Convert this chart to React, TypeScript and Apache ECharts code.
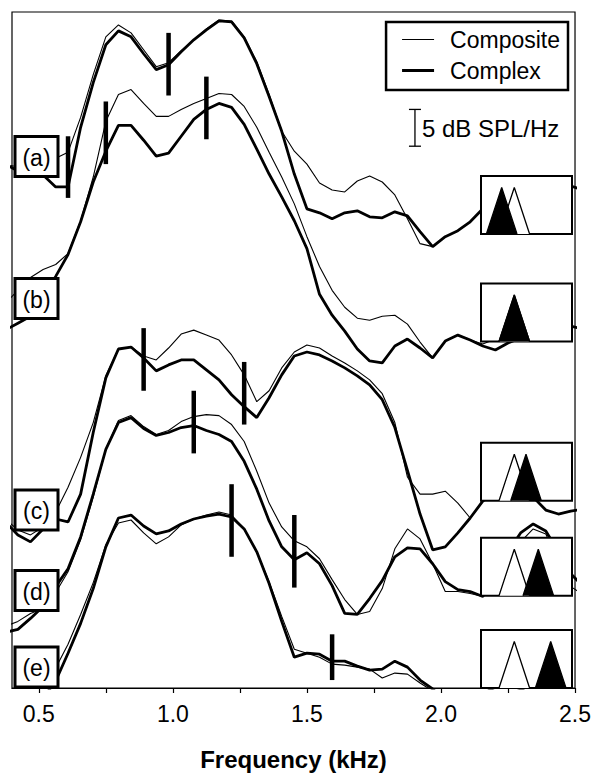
import React, { useEffect, useRef } from "react";
import * as echarts from "echarts";

// Frequency bins (kHz), 46.875 Hz spacing
const freqKHz = [0.375, 0.422, 0.469, 0.516, 0.563, 0.609, 0.656, 0.703, 0.75, 0.797, 0.844, 0.891, 0.938, 0.984, 1.031, 1.078, 1.125, 1.172, 1.219, 1.266, 1.313, 1.359, 1.406, 1.453, 1.5, 1.547, 1.594, 1.641, 1.688, 1.734, 1.781, 1.828, 1.875, 1.922, 1.969, 2.016, 2.063, 2.109, 2.156, 2.203, 2.25, 2.297, 2.344, 2.391, 2.438, 2.484, 2.531];

// Stacked spectra levels (offset plot units; 36.7 units = 5 dB)
const aComplex = [527, 520, 518, 516, 504, 504, 564, 609, 647, 661, 655, 638, 622, 627, 640, 652, 662, 671, 670, 654, 628, 595, 560, 517, 482, 478, 472, 478, 480, 474, 473, 479, 475, 459, 444, 454, 460, 469, 482, 487, 492, 496, 500, 503, 505, 505, 501];
const aComposite = [527, 524, 526, 529, 533, 539, 574, 617, 655, 667, 659, 642, 625, 629, 641, 652, 663, 672, 671, 655, 630, 597, 560, 540, 527, 508, 501, 499, 510, 515, 509, 496, 472, 447, 444, 454, 460, 469, 482, 487, 492, 496, 500, 503, 505, 505, 501];
const bComplex = [360, 367, 374, 394, 414, 436, 469, 509, 540, 566, 566, 551, 535, 538, 555, 572, 582, 588, 584, 567, 542, 517, 494, 470, 442, 396, 375, 359, 341, 329, 327, 344, 351, 342, 332, 349, 355, 350, 344, 340, 347, 352, 355, 358, 362, 364, 361];
const bComposite = [387, 400, 413, 421, 426, 437, 470, 514, 570, 597, 602, 588, 575, 575, 582, 588, 593, 598, 597, 585, 564, 539, 514, 487, 454, 424, 400, 383, 372, 370, 374, 375, 366, 348, 332, 349, 355, 350, 346, 351, 355, 357, 358, 360, 362, 364, 361];
const cComplex = [167, 154, 147, 160, 170, 167, 195, 257, 312, 341, 343, 332, 319, 325, 330, 330, 320, 310, 295, 283, 272, 292, 315, 334, 338, 335, 329, 322, 314, 305, 290, 262, 219, 175, 139, 142, 156, 171, 188, 197, 204, 202, 192, 179, 175, 178, 180];
const cComposite = [170, 159, 154, 162, 177, 202, 232, 267, 314, 341, 343, 334, 330, 342, 356, 360, 355, 350, 335, 315, 288, 299, 322, 338, 345, 342, 334, 327, 319, 310, 296, 267, 212, 195, 195, 198, 186, 171, 188, 197, 204, 202, 192, 179, 175, 178, 180];
const dComplex = [56, 59, 70, 82, 102, 120, 152, 195, 240, 267, 272, 261, 254, 257, 262, 264, 259, 255, 248, 228, 200, 168, 142, 129, 136, 125, 103, 75, 74, 90, 108, 132, 141, 140, 125, 107, 99, 97, 92, 112, 137, 156, 165, 158, 137, 115, 102];
const dComposite = [62, 67, 75, 80, 96, 117, 149, 192, 240, 269, 274, 263, 255, 259, 268, 273, 275, 274, 265, 248, 218, 186, 162, 148, 142, 130, 109, 89, 74, 77, 100, 140, 160, 150, 125, 97, 97, 95, 92, 107, 127, 147, 160, 155, 127, 102, 94];
const eComplex = [-48, -38, -23, -10, 7, 35, 65, 100, 142, 171, 174, 163, 155, 158, 165, 170, 173, 175, 172, 160, 137, 105, 67, 31, 35, 34, 27, 27, 22, 18, 19, 27, 21, 8, -1, -13, -18, -14, -6, 1, 4, -1, -8, -13, -16, -18, -18];
const eComposite = [-38, -26, -13, 0, 20, 44, 74, 106, 144, 166, 169, 156, 145, 152, 164, 170, 174, 177, 174, 160, 137, 107, 72, 39, 35, 31, 24, 23, 21, 19, 10, 15, 14, 5, -3, -13, -18, -14, -6, 1, 4, -1, -8, -13, -16, -18, -18];

const complexSeries = [aComplex, bComplex, cComplex, dComplex, eComplex];
const compositeSeries = [aComposite, bComposite, cComposite, dComposite, eComposite];

// Formant markers (vertical bars)
const markerFreq = [0.609, 0.984, 0.75, 1.125, 0.891, 1.266, 1.078, 1.453, 1.219, 1.594];
const markerTop = [555, 659, 590, 615, 362, 328, 299, 174, 205, 54];
const markerBottom = [493, 596, 527, 552, 299, 265, 236, 101, 132, 8];

// Scale bar: 5 dB
const scaleBarFreq = 1.903;
const scaleBarTop = 582;
const scaleBarBottom = 545;
const scaleBarLabel = "5 dB SPL/Hz";

// Axis ticks
const xTickValues = [0.5, 0.75, 1.0, 1.25, 1.5, 1.75, 2.0, 2.25, 2.5];
const xLabelValues = [0.5, 1.0, 1.5, 2.0, 2.5];

// Panel labels
const panelLabels = ["(a)", "(b)", "(c)", "(d)", "(e)"];

// Insets: reference (white) and shifted (black) triangle centres
const insetRefCenter = 33.3;
const insetShiftCenters = [20.7, 33.3, 45.0, 57.3, 69.7];

const FONT = "Liberation Sans, Arial, Helvetica, sans-serif";

// legend icons: horizontal bars inside a 32x14 box (tiny corner specks fix the bounding box)
const ICON_THIN = "path://M0,6.45L32,6.45L32,7.55L0,7.55Z M0,0L0.01,0L0.01,0.01Z M31.99,13.99L32,13.99L32,14Z";
const ICON_THICK = "path://M0,5.5L32,5.5L32,8.5L0,8.5Z M0,0L0.01,0L0.01,0.01Z M31.99,13.99L32,13.99L32,14Z";

export default function App() {
  const ref = useRef<HTMLDivElement>(null);

  useEffect(() => {
    if (!ref.current) return;
    const chart = echarts.init(ref.current, undefined, { renderer: "svg" });

    const labelTops = [136.5, 278.5, 490, 570.5, 647];
    const insetTops = [176, 283.5, 442.7, 537.7, 630];
    const triHalf = 15.3;
    const triH = 46.5;

    const grids: any[] = [
      { left: 12, right: 16, top: 12, bottom: 84, show: true, borderColor: "#000", borderWidth: 1.2 },
    ];
    const xAxes: any[] = [
      {
        type: "value",
        gridIndex: 0,
        min: 0.4,
        max: 2.5,
        splitLine: { show: false },
        axisLine: { show: true, onZero: false, lineStyle: { color: "#000", width: 1.2 } },
        axisTick: { show: true, inside: false, length: 5, customValues: xTickValues, lineStyle: { color: "#000", width: 1.2 } },
        axisLabel: {
          customValues: xLabelValues,
          formatter: (v: number) => v.toFixed(1),
          fontSize: 23,
          fontFamily: FONT,
          color: "#000",
          margin: 14,
        },
        name: "Frequency (kHz)",
        nameLocation: "middle",
        nameGap: 59,
        nameTextStyle: { fontSize: 24, fontWeight: "bold", fontFamily: FONT, color: "#000" },
      },
    ];
    const yAxes: any[] = [
      { type: "value", gridIndex: 0, min: 0, max: 680, show: false, splitLine: { show: false } },
    ];

    const series: any[] = [];
    complexSeries.forEach((arr) => {
      series.push({
        name: "Complex",
        type: "line",
        xAxisIndex: 0,
        yAxisIndex: 0,
        data: freqKHz.map((f, k) => [f, arr[k]]),
        symbol: "none",
        showSymbol: false,
        lineStyle: { color: "#000", width: 2.8 },
        itemStyle: { color: "#000" },
        z: 2,
        silent: true,
        clip: true,
      });
    });
    compositeSeries.forEach((arr) => {
      series.push({
        name: "Composite",
        type: "line",
        xAxisIndex: 0,
        yAxisIndex: 0,
        data: freqKHz.map((f, k) => [f, arr[k]]),
        symbol: "none",
        showSymbol: false,
        lineStyle: { color: "#000", width: 1.1 },
        itemStyle: { color: "#000" },
        z: 2,
        silent: true,
        clip: true,
      });
    });

    series.push({
      type: "custom",
      name: "markers",
      xAxisIndex: 0,
      yAxisIndex: 0,
      z: 3,
      silent: true,
      data: markerFreq.map((f, i) => [f, markerTop[i], markerBottom[i]]),
      renderItem: (_p: any, api: any) => {
        const p1 = api.coord([api.value(0), api.value(1)]);
        const p2 = api.coord([api.value(0), api.value(2)]);
        return {
          type: "line",
          shape: { x1: p1[0], y1: p1[1], x2: p2[0], y2: p2[1] },
          style: { stroke: "#000", lineWidth: 4.5 },
        };
      },
    });

    series.push({
      type: "custom",
      name: "scalebar",
      xAxisIndex: 0,
      yAxisIndex: 0,
      z: 3,
      silent: true,
      clip: false,
      data: [[scaleBarFreq, scaleBarTop, scaleBarBottom]],
      renderItem: (_p: any, api: any) => {
        const t = api.coord([api.value(0), api.value(1)]);
        const b = api.coord([api.value(0), api.value(2)]);
        const cap = 6;
        return {
          type: "group",
          children: [
            { type: "line", shape: { x1: t[0], y1: t[1], x2: b[0], y2: b[1] }, style: { stroke: "#000", lineWidth: 1.3 } },
            { type: "line", shape: { x1: t[0] - cap, y1: t[1], x2: t[0] + cap, y2: t[1] }, style: { stroke: "#000", lineWidth: 1.3 } },
            { type: "line", shape: { x1: b[0] - cap, y1: b[1], x2: b[0] + cap, y2: b[1] }, style: { stroke: "#000", lineWidth: 1.3 } },
            {
              type: "text",
              x: t[0] + 7,
              y: (t[1] + b[1]) / 2 + 1,
              style: { text: scaleBarLabel, fontSize: 24, fontFamily: FONT, fill: "#000", align: "left", verticalAlign: "middle" },
            },
          ],
        };
      },
    });

    insetShiftCenters.forEach((c, i) => {
      const gi = i + 1;
      grids.push({
        left: 481,
        width: 91,
        top: insetTops[i],
        height: 58,
        show: true,
        borderColor: "#000",
        borderWidth: 2,
        backgroundColor: "#fff",
        z: 5,
      });
      xAxes.push({ type: "value", gridIndex: gi, min: 0, max: 91, show: false, splitLine: { show: false } });
      yAxes.push({ type: "value", gridIndex: gi, min: 0, max: 58, show: false, splitLine: { show: false } });
      series.push({
        type: "line",
        name: "inset-ref-" + i,
        xAxisIndex: gi,
        yAxisIndex: gi,
        data: [
          [insetRefCenter - triHalf, 0],
          [insetRefCenter, triH],
          [insetRefCenter + triHalf, 0],
        ],
        symbol: "none",
        lineStyle: { color: "#000", width: 1.3 },
        areaStyle: { color: "#fff", opacity: 1 },
        z: 6,
        silent: true,
      });
      series.push({
        type: "line",
        name: "inset-shift-" + i,
        xAxisIndex: gi,
        yAxisIndex: gi,
        data: [
          [c - triHalf, 0],
          [c, triH],
          [c + triHalf, 0],
        ],
        symbol: "none",
        lineStyle: { color: "#000", width: 1.3 },
        areaStyle: { color: "#000", opacity: 1 },
        z: 7,
        silent: true,
      });
    });

    const graphic: any[] = panelLabels.map((txt, i) => ({
      type: "group",
      x: 15,
      y: labelTops[i],
      z: 20,
      silent: true,
      children: [
        { type: "rect", z: 20, shape: { x: 0, y: 0, width: 43, height: 40 }, style: { fill: "#fff", stroke: "#000", lineWidth: 3 } },
        {
          type: "text",
          z: 21,
          x: 21.5,
          y: 21,
          style: { text: txt, fontSize: 23, fontFamily: FONT, fill: "#000", align: "center", verticalAlign: "middle" },
        },
      ],
    }));

    chart.setOption({
      animation: false,
      backgroundColor: "#fff",
      grid: grids,
      xAxis: xAxes,
      yAxis: yAxes,
      legend: {
        data: [
          { name: "Composite", icon: ICON_THIN, itemStyle: { color: "#000", borderWidth: 0 } },
          { name: "Complex", icon: ICON_THICK, itemStyle: { color: "#000", borderWidth: 0 } },
        ],
        orient: "vertical",
        right: 26,
        top: 22,
        borderColor: "#000",
        borderWidth: 2.5,
        backgroundColor: "#fff",
        padding: [6, 8, 8, 16],
        itemWidth: 32,
        itemHeight: 14,
        itemGap: 8,
        selectedMode: false,
        itemStyle: { color: "#000", borderWidth: 0 },
        lineStyle: { width: 0, opacity: 0 },
        textStyle: { fontSize: 23, fontFamily: FONT, color: "#000", padding: [0, 0, 0, 11] },
      },
      series,
      graphic,
    });

    return () => chart.dispose();
  }, []);

  return <div ref={ref} style={{ position: "fixed", left: 0, top: 0, width: 594, height: 776 }} />;
}
